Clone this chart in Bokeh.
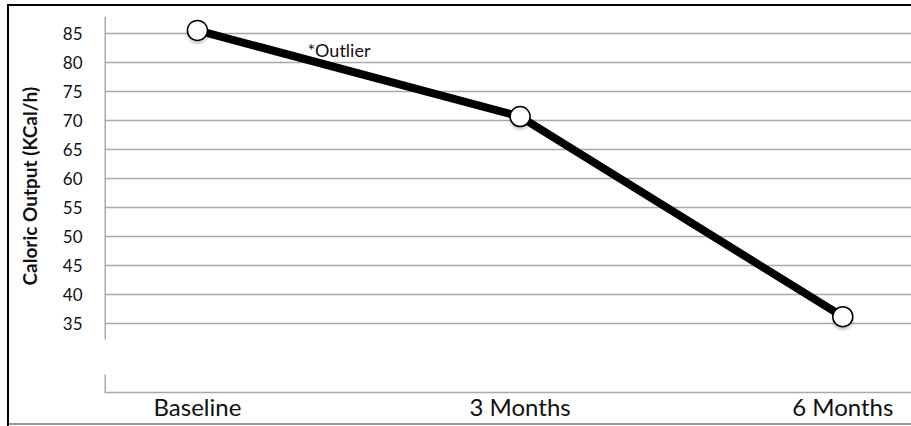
from bokeh.plotting import figure
from bokeh.models import Range1d, FixedTicker, Label, ColumnDataSource, Title
from bokeh.embed import file_html
from bokeh.resources import INLINE

# --- data -------------------------------------------------------------
categories = ["Baseline", "3 Months", "6 Months"]
caloric_output = [85.6, 70.7, 36.1]
y_ticks = [35, 40, 45, 50, 55, 60, 65, 70, 75, 80, 85]
y_axis_title = "Caloric Output (KCal/h)"
note_text = "*Outlier"

# --- layout constants -------------------------------------------------
Y_START, Y_END = 23, 88
X_START, X_END = -0.288, 2.213
AXIS_BREAK = (26.1, 32.15)          # gap drawn in the value axis
GRID = "#a9a9a9"
INK = "#111111"
FONT = "Lato"

x_pos = list(range(len(categories)))
src = ColumnDataSource(dict(x=x_pos, y=caloric_output, label=categories))

# outer frame painted behind a transparent border area
frame_css = ("linear-gradient(#000,#000) 7px 4px / 2px 422px no-repeat, "
             "linear-gradient(#000,#000) 7px 4px / 904px 2px no-repeat, "
             "linear-gradient(#9a9a9a,#9a9a9a) 7px 423px / 904px 2px no-repeat, "
             "#ffffff")

p = figure(width=911, height=426, output_backend="svg", toolbar_location=None,
           x_range=Range1d(X_START, X_END), y_range=Range1d(Y_START, Y_END),
           min_border_left=104, min_border_right=0,
           min_border_top=16, min_border_bottom=34,
           styles={"background": frame_css})
p.outline_line_color = None
p.background_fill_color = "white"
p.border_fill_alpha = 0

# grid
p.xgrid.grid_line_color = None
p.ygrid.grid_line_color = GRID
p.ygrid.grid_line_width = 1.5

# value axis: labels only, the line is drawn below with a break
p.yaxis.ticker = FixedTicker(ticks=y_ticks)
p.yaxis.axis_line_color = None
p.yaxis.major_tick_line_color = None
p.yaxis.minor_tick_line_color = None
p.yaxis.major_tick_out = 0
p.yaxis.major_tick_in = 0
p.yaxis.minor_tick_out = 0
p.yaxis.major_label_standoff = 22
p.yaxis.major_label_text_font = FONT
p.yaxis.major_label_text_font_size = "17px"
p.yaxis.major_label_text_color = INK

# value-axis title, placed as a side title so it can sit off-centre
p.add_layout(Title(text=y_axis_title, align="left", offset=107,
                   vertical_align="top", standoff=33,
                   text_font=FONT, text_font_style="bold",
                   text_font_size="19px", text_color=INK), "left")

# category axis
p.xaxis.ticker = FixedTicker(ticks=x_pos)
p.xaxis.major_label_overrides = {i: c for i, c in zip(x_pos, categories)}
p.xaxis.axis_line_color = GRID
p.xaxis.axis_line_width = 1.5
p.xaxis.major_tick_line_color = None
p.xaxis.minor_tick_line_color = None
p.xaxis.major_tick_out = 0
p.xaxis.major_tick_in = 0
p.xaxis.minor_tick_out = 0
p.xaxis.major_label_standoff = -1
p.xaxis.major_label_text_font = FONT
p.xaxis.major_label_text_font_size = "24px"
p.xaxis.major_label_text_color = INK

# broken value-axis line
p.segment(x0=[X_START, X_START], y0=[Y_START, AXIS_BREAK[1]],
          x1=[X_START, X_START], y1=[AXIS_BREAK[0], Y_END],
          line_color=GRID, line_width=3)

# soft shadow under the markers
px_per_unit = 376 / (Y_END - Y_START)
shadow_y = [v - 3 / px_per_unit for v in caloric_output]
for size, alpha in [(24, 0.05), (22, 0.08), (20, 0.12)]:
    p.scatter(x_pos, shadow_y, size=size, marker="circle",
              fill_color="#555555", fill_alpha=alpha, line_color=None)

# series
p.line("x", "y", source=src, line_color="black", line_width=8)
p.scatter("x", "y", source=src, marker="circle", size=20,
          fill_color="white", line_color="black", line_width=1.5)

# note next to the baseline point
p.add_layout(Label(x=x_pos[0], y=caloric_output[0], x_offset=110, y_offset=-20,
                   text=note_text, text_font=FONT, text_font_size="18px",
                   text_color=INK, text_align="left", text_baseline="alphabetic"))

open("out.html", "w").write(file_html(p, INLINE))
